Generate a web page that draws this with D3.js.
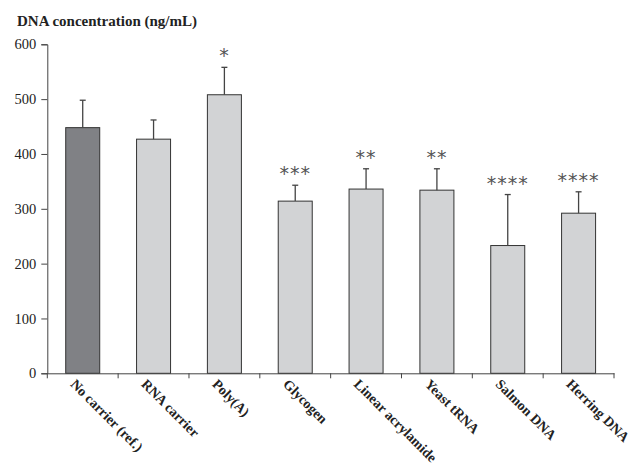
<!DOCTYPE html>
<html><head><meta charset="utf-8">
<script src="https://cdn.jsdelivr.net/npm/d3@7/dist/d3.min.js"></script>
<style>body{margin:0;background:#fff}svg{display:block}</style>
</head><body><svg id="c" width="632" height="470"></svg>
<script>
const categories = ["No carrier (ref.)","RNA carrier","Poly(A)","Glycogen","Linear acrylamide","Yeast tRNA","Salmon DNA","Herring DNA"];
const means = [448, 427, 508, 314, 336, 334, 233, 292];
const errors = [50, 35, 50, 29, 37, 39, 93, 39];
const stars = ["", "", "*", "***", "**", "**", "****", "****"];
const yTicks = [0,100,200,300,400,500,600];

const svg = d3.select("#c");
const x = d3.scaleBand().domain(categories).range([47.3, 614]).padding(0);
const y = d3.scaleLinear().domain([0, 600]).range([373.3, 44.3]);
const barW = x.bandwidth() * 0.48;
const serif = "'Liberation Serif','Times New Roman',serif";

// title
svg.append("text").attr("x", 17).attr("y", 26)
  .attr("font-family", serif).attr("font-weight", "bold").attr("font-size", 15)
  .attr("fill", "#222").text("DNA concentration (ng/mL)");

// bars
const g = svg.append("g");
g.selectAll("rect.bar").data(categories).join("rect")
  .attr("x", d => x(d) + (x.bandwidth() - barW) / 2)
  .attr("y", (d, i) => y(means[i]))
  .attr("width", barW)
  .attr("height", (d, i) => y(0) - y(means[i]))
  .attr("fill", (d, i) => i === 0 ? "#808185" : "#d2d3d5")
  .attr("stroke", "#333").attr("stroke-width", 1);

// error bars (upper only)
categories.forEach((c, i) => {
  const cx = x(c) + x.bandwidth() / 2;
  g.append("line").attr("x1", cx).attr("x2", cx)
    .attr("y1", y(means[i])).attr("y2", y(means[i] + errors[i]))
    .attr("stroke", "#444").attr("stroke-width", 1.3);
  g.append("line").attr("x1", cx - 3).attr("x2", cx + 3)
    .attr("y1", y(means[i] + errors[i])).attr("y2", y(means[i] + errors[i]))
    .attr("stroke", "#444").attr("stroke-width", 1.3);
  if (stars[i]) {
    g.append("text").attr("x", cx).attr("y", y(means[i] + errors[i]) - 5)
      .attr("text-anchor", "middle")
      .attr("font-family", "'DejaVu Sans',sans-serif").attr("font-size", 19)
      .attr("letter-spacing", 1)
      .attr("fill", "#555").text(stars[i]);
  }
});

// y axis
const yAxis = svg.append("g").attr("transform", "translate(47.3,0)")
  .call(d3.axisLeft(y).tickValues(yTicks).tickSize(6).tickPadding(5));
yAxis.select(".domain").attr("stroke", "#444");
yAxis.selectAll(".tick line").attr("stroke", "#444");
yAxis.selectAll("text").attr("font-family", serif).attr("font-size", 14.5).attr("fill", "#222");

// x axis
const xAxis = svg.append("g").attr("transform", "translate(0,373.3)")
  .call(d3.axisBottom(x).tickSize(0).tickFormat(""));
xAxis.select(".domain").attr("stroke", "#444");
const edges = categories.map(c => x(c)).concat([x.range()[1]]);
xAxis.selectAll("line.edge").data(edges).join("line").attr("class", "edge")
  .attr("x1", d => d).attr("x2", d => d).attr("y1", 0).attr("y2", 5)
  .attr("stroke", "#444");

// x labels
svg.append("g").selectAll("text").data(categories).join("text")
  .attr("transform", d => `translate(${x(d) + x.bandwidth() / 2 - 13},385) rotate(45)`)
  .attr("font-family", serif).attr("font-weight", "bold").attr("font-size", 14)
  .attr("fill", "#222").text(d => d);
</script></body></html>
